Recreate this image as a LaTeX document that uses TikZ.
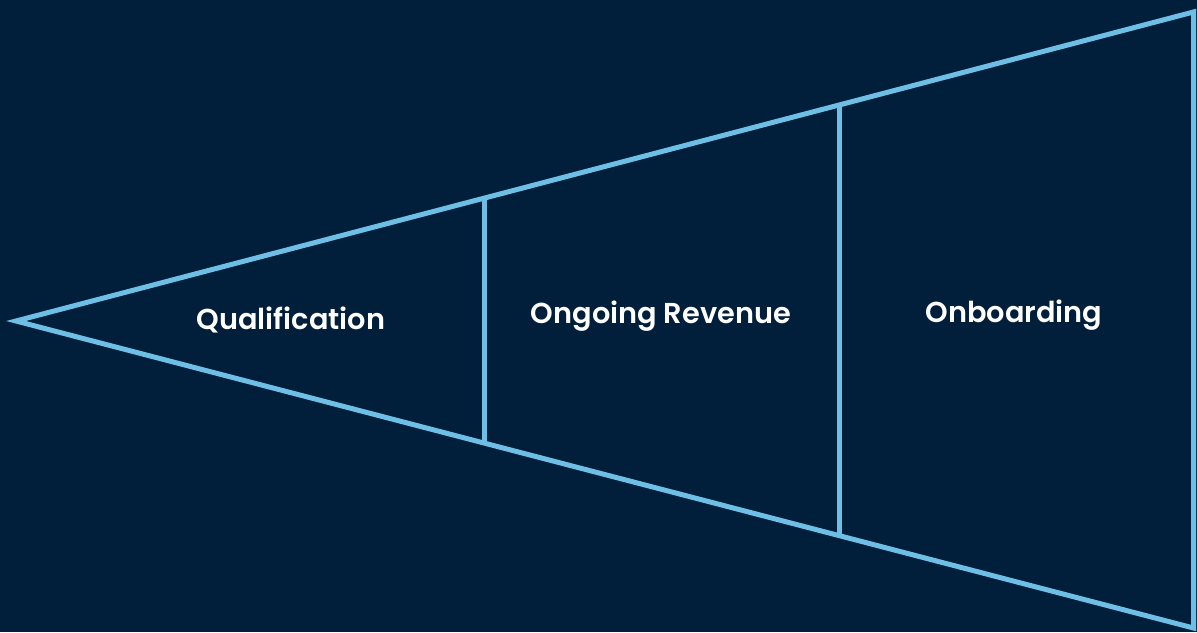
\documentclass[tikz,border=0pt]{standalone}
\usepackage{fontspec}
\setmainfont{Poppins}[BoldFont={* SemiBold}]
\definecolor{funnelbg}{HTML}{011F3B}
\definecolor{funnelline}{HTML}{6DBFE6}

\begin{document}
\begin{tikzpicture}[x=1pt,y=-1pt]
	\tikzset{edge/.style={draw=funnelline, line width=5pt}, label/.style={text=white, font=\fontsize{28.8}{32}\selectfont\bfseries}}
	\fill[funnelbg] (0,0) rectangle (1197,632);
	\useasboundingbox (0,0) rectangle (1197,632);
	\coordinate(T) at (16,321);
	\coordinate(R1) at (1193.5,12);
	\coordinate(R2) at (1193.5,628);
	\coordinate(A1) at (484,198);
	\coordinate(A2) at (484,443);
	\coordinate(B1) at (839,105);
	\coordinate(B2) at (839,536);
	\draw [edge, line join=miter] (T) -- (R1) -- (R2) -- cycle;
	\draw [edge] (A1) -- (A2);
	\draw [edge] (B1) -- (B2);
	\node[label](Q) at (291,320){Qualification};
	\node[label](O) at (661,316){Ongoing Revenue};
	\node[label](N) at (1014,315){Onboarding};
\end{tikzpicture}
\end{document}
